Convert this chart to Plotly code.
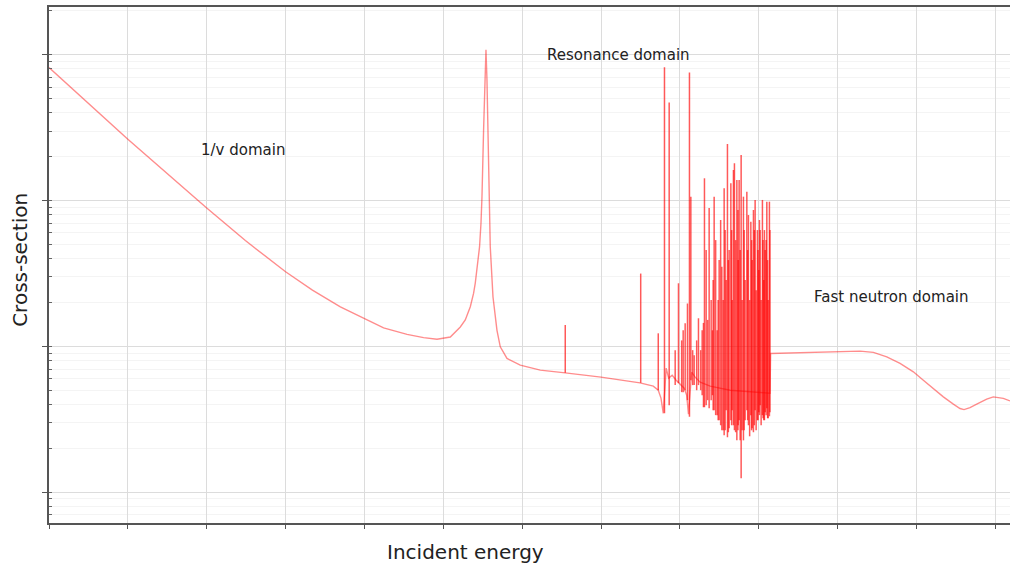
import math
import plotly.graph_objects as go

# Smooth part of the curve (energy in eV, cross-section in arbitrary units)
bg_energy = [1e-5, 1e-4, 1e-3, 3.09e-3, 1e-2, 0.0219, 0.0495, 0.0977, 0.175, 0.347,
             0.563, 0.832, 1.227, 1.643, 1.90, 2.20, 2.42, 2.544, 2.72, 2.884,
             3.005, 3.094, 3.243, 3.377, 3.477, 3.58, 3.718, 3.941, 4.265, 4.793,
             5.28, 6.42, 9.46, 16.96, 35.2, 100, 312, 460, 532, 576,
             616, 670.6, 721, 799, 898, 1000, 1134, 1220, 1285, 1411,
             1563, 1808, 2421, 4340, 13906, 14152, 1.006e5, 1.929e5, 2.843e5, 4.204e5,
             6.196e5, 9.136e5, 1.223e6, 1.638e6, 2.193e6, 2.936e6, 3.569e6, 4.012e6, 4.778e6, 5.812e6,
             7.78e6, 9.435e6, 1.147e7, 1.263e7, 1.536e7]
bg_sigma = [817, 263.6, 89, 53.2, 32.5, 24.3, 18.7, 15.6, 13.4, 12.1,
            11.5, 11.2, 11.6, 13.6, 15.2, 18.7, 23.1, 27.2, 37.1, 48.3,
            69.9, 106.4, 305, 672, 1081, 672, 181, 48.3, 21.9, 12.9,
            9.94, 8.27, 7.44, 6.88, 6.59, 6.16, 5.63, 5.34, 5.01, 4.42,
            3.48, 7.10, 6.06, 6.35, 5.87, 5.51, 5.17, 4.63, 3.43, 6.66,
            6.16, 5.69, 5.34, 5.01, 4.78, 8.95, 9.18, 9.28, 9.10, 8.48,
            7.64, 6.70, 5.87, 5.15, 4.51, 4.02, 3.75, 3.69, 3.81, 4.02,
            4.35, 4.51, 4.47, 4.40, 4.23]

# Resolved resonances: energy, peak value, lowest value
res_energy = [35.2, 318.6, 532, 637.9, 731.8, 960, 1167, 1248, 1323, 1378,
              1721, 1991, 2050, 2351, 2721, 3406, 3643, 4012, 4430, 4778,
              4920, 5278, 5644, 5983, 6400, 7066, 7405, 7942, 8568, 9002,
              9627, 10416, 11140, 12054, 12665, 13665,
              1054, 1518, 1835, 2493, 2590, 2971, 3148, 3862, 4215, 4602,
              5482, 6161, 6724, 7668, 8249, 9268, 10030, 10724, 11606, 13153,
              2154, 2251, 2643, 2843, 3058, 3289, 3538, 3751, 4119, 4534,
              5096, 5450, 5812, 6531, 7234, 8128, 8796, 9797, 10207, 11336,
              11809, 12412, 12966, 13868, 1917, 1633, 1453, 1101, 872]
res_peak = [14.0, 31.6, 12.3, 822, 469.9, 27.1, 14.4, 19.7, 755, 106.4,
            15.6, 14.5, 142.2, 89.0, 106.4, 35.2, 121.5, 244.6, 131.4, 162.2,
            180.3, 138.5, 138.5, 205.6, 106.4, 115.1, 79.6, 71.6, 86.2, 101,
            62.8, 62.8, 101, 45.8, 98.3, 98.3,
            11.0, 8.71, 9.43, 20.8, 12.9, 12.9, 39.1, 28.5, 45.8, 20.8,
            39.1, 20.8, 28.5, 20.8, 39.1, 24.3, 33.4, 20.8, 28.5, 20.8,
            45.8, 15.2, 28.5, 53.6, 20.8, 73.6, 20.8, 62.8, 39.1, 62.8,
            53.6, 86.2, 45.8, 62.8, 45.8, 53.6, 62.8, 45.8, 73.6, 53.6,
            62.8, 53.6, 39.1, 62.8, 12.9, 11.0, 9.43, 12.9, 9.43]
res_low = [6.59, 5.63, 5.01, 3.48, 3.95, 5.60, 5.01, 4.28, 3.29, 5.87,
           5.43, 3.83, 3.83, 3.77, 3.65, 2.66, 2.46, 2.38, 3.12, 2.88,
           2.66, 2.27, 3.12, 1.248, 2.27, 3.65, 2.88, 3.38, 2.58, 3.65,
           3.12, 3.95, 3.38, 3.54, 3.77, 3.32,
           4.86, 5.43, 5.01, 4.28, 4.63, 3.38, 3.12, 3.65, 2.75, 3.65,
           2.88, 2.66, 3.12, 2.42, 2.75, 2.66, 3.54, 2.88, 3.12, 3.22,
           3.95, 4.28, 3.65, 3.38, 3.12, 2.88, 2.66, 2.66, 2.58, 2.88,
           2.58, 2.66, 2.27, 2.66, 3.12, 2.66, 2.88, 3.12, 3.38, 3.22,
           3.12, 3.38, 3.22, 3.54, 4.63, 5.01, 5.43, 4.86, 5.43]

labels = ["1/v domain", "Resonance domain", "Fast neutron domain"]
label_energy = [8.0e-4, 19.5, 4.75e4]
label_sigma = [222, 1000, 21.8]

fig = go.Figure()
fig.add_trace(go.Scatter(x=bg_energy, y=bg_sigma, mode="lines",
                         line=dict(color="rgba(255,0,0,0.45)", width=1.4),
                         showlegend=False, hoverinfo="skip"))
for e, p, lo in zip(res_energy, res_peak, res_low):
    fig.add_trace(go.Scatter(x=[e, e], y=[lo, p], mode="lines",
                             line=dict(color="rgba(255,0,0,0.65)", width=1.5),
                             showlegend=False, hoverinfo="skip"))

for t, xe, ys in zip(labels, label_energy, label_sigma):
    fig.add_annotation(x=math.log10(xe), y=math.log10(ys),
                       xref="x", yref="y", text=t, showarrow=False,
                       xanchor="left", yanchor="middle",
                       font=dict(family="DejaVu Sans", size=15, color="#222"))

fig.add_annotation(x=0.433, y=0, xref="paper", yref="paper", yshift=-29,
                   text="Incident energy", showarrow=False,
                   xanchor="center", yanchor="middle",
                   font=dict(family="DejaVu Sans", size=20, color="#222"))
fig.add_annotation(x=0, y=0.51, xref="paper", yref="paper", xshift=-29,
                   text="Cross-section", showarrow=False, textangle=-90,
                   xanchor="center", yanchor="middle",
                   font=dict(family="DejaVu Sans", size=20, color="#222"))

fig.update_layout(
    width=1010, height=569,
    margin=dict(l=49, r=0, t=7, b=46),
    paper_bgcolor="white", plot_bgcolor="white",
    xaxis=dict(type="log", range=[-5, 7.1863], dtick=1, showticklabels=False,
               ticks="outside", ticklen=4, tickcolor="#555",
               showgrid=True, gridcolor="#dcdcdc", gridwidth=1,
               showline=True, linecolor="#555", linewidth=1.5, mirror=True,
               zeroline=False),
    yaxis=dict(type="log", range=[-0.2107, 3.3274], dtick=1, showticklabels=False,
               ticks="outside", ticklen=5, tickcolor="#555",
               showgrid=True, gridcolor="#dcdcdc", gridwidth=1,
               showline=True, linecolor="#555", linewidth=1.5, mirror=False,
               zeroline=False,
               minor=dict(dtick="D1", ticks="inside", ticklen=3, tickcolor="#666",
                          showgrid=True, gridcolor="#f4f4f4")),
)

fig.write_html("out.html")
